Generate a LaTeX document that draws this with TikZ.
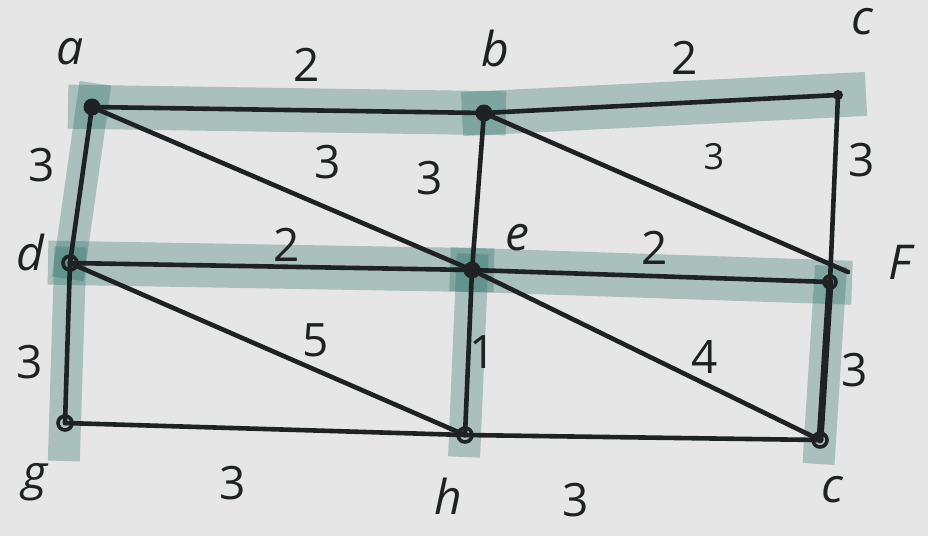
\documentclass[tikz,border=0pt]{standalone}
\usepackage{fontspec}
\setmainfont{Open Sans}
\definecolor{bg}{HTML}{E6E6E6}
\definecolor{hl}{RGB}{34,108,98}
\definecolor{ink}{HTML}{1E2222}
\begin{document}
\begin{tikzpicture}[x=1pt,y=-1pt,
  hlt/.style={draw=hl,opacity=0.31,line width=44pt,line cap=rect,line join=round},
  hlv/.style={hlt,line width=32pt},
  edge/.style={draw=ink,line width=4.6pt,line cap=round},
  dot/.style={circle,fill=ink,inner sep=0pt,minimum size=17pt},
  ring/.style={circle,draw=ink,line width=3.6pt,inner sep=0pt,minimum size=14pt},
  lbl/.style={text=ink,font=\fontsize{48}{48}\selectfont\itshape,inner sep=0pt},
  wt/.style={text=ink,font=\fontsize{46}{46}\selectfont,inner sep=0pt}]
\useasboundingbox (0,0) rectangle (928,536);
\fill[bg] (0,0) rectangle (928,536);
% vertices
\coordinate (a) at (92,107);
\coordinate (b) at (484,113);
\coordinate (c) at (838,95);
\coordinate (d) at (70,263);
\coordinate (e) at (472,270);
\coordinate (f) at (830,282);
\coordinate (g) at (65,423);
\coordinate (h) at (465,435);
\coordinate (i) at (820,440);
% highlights (spanning tree)
\draw[hlt,shorten <=-2pt] (a) -- (b);
\draw[hlt] (b) -- ([xshift=6pt]c);
\draw[hlv,shorten <=-8pt] (a) -- (d);
\draw[hlv,shorten >=-22pt] (d) -- (g);
\draw[hlt] (d) -- (e);
\draw[hlt] (e) -- (f);
\draw[hlv,shorten >=-6pt] (e) -- (h);
\draw[hlv,shorten >=-8pt] (f) -- (i);
% edges
\draw[edge] (a) -- (b);
\draw[edge] (b) -- (c);
\draw[edge] (a) -- (d);
\draw[edge] (a) -- (e);
\draw[edge] (b) -- (e);
\draw[edge] (b) -- ([shift={(18pt,10pt)}]f);
\draw[edge] (c) -- (f);
\draw[edge] (d) -- (e);
\draw[edge] (e) -- (f);
\draw[edge] (d) -- (g);
\draw[edge] (d) -- (h);
\draw[edge] (e) -- (h);
\draw[edge] (e) -- (i);
\draw[edge,line width=7pt] (f) -- (i);
\draw[edge] (g) -- (h);
\draw[edge] (h) -- (i);
% vertex marks
\node[dot] (da) at (a) {};
\node[dot] (db) at (b) {};
\node[dot,minimum size=10pt] (dc) at (c) {};
\node[ring] (dd) at (d) {};
\node[dot] (de) at (e) {};
\node[ring,minimum size=12pt] (df) at (f) {};
\node[ring] (dg) at (g) {};
\node[ring] (dh) at (h) {};
\node[ring] (di) at (i) {};
% vertex labels
\node[lbl] (la) at (70,52) {a};
\node[lbl] (lb) at (495,48) {b};
\node[lbl] (lc) at (862,22) {c};
\node[lbl] (ld) at (30,252) {d};
\node[lbl] (le) at (517,238) {e};
\node[lbl] (lf) at (900,262) {F};
\node[lbl] (lg) at (35,482) {g};
\node[lbl] (lh) at (448,496) {h};
\node[lbl] (li) at (832,490) {c};
% weights
\node[wt] (wab) at (307,65) {2};
\node[wt] (wbc) at (685,58) {2};
\node[wt] (wad) at (42,165) {3};
\node[wt] (wae) at (328,162) {3};
\node[wt] (wbe) at (430,178) {3};
\node[wt,font=\fontsize{36}{36}\selectfont] (wbf) at (714,157) {3};
\node[wt] (wcf) at (862,160) {3};
\node[wt] (wde) at (287,245) {2};
\node[wt] (wef) at (655,248) {2};
\node[wt] (wdg) at (30,362) {3};
\node[wt] (wdh) at (316,340) {5};
\node[wt] (weh) at (483,352) {1};
\node[wt] (wei) at (705,357) {4};
\node[wt] (wfi) at (855,370) {3};
\node[wt] (wgh) at (233,483) {3};
\node[wt] (whi) at (576,500) {3};
\end{tikzpicture}
\end{document}
